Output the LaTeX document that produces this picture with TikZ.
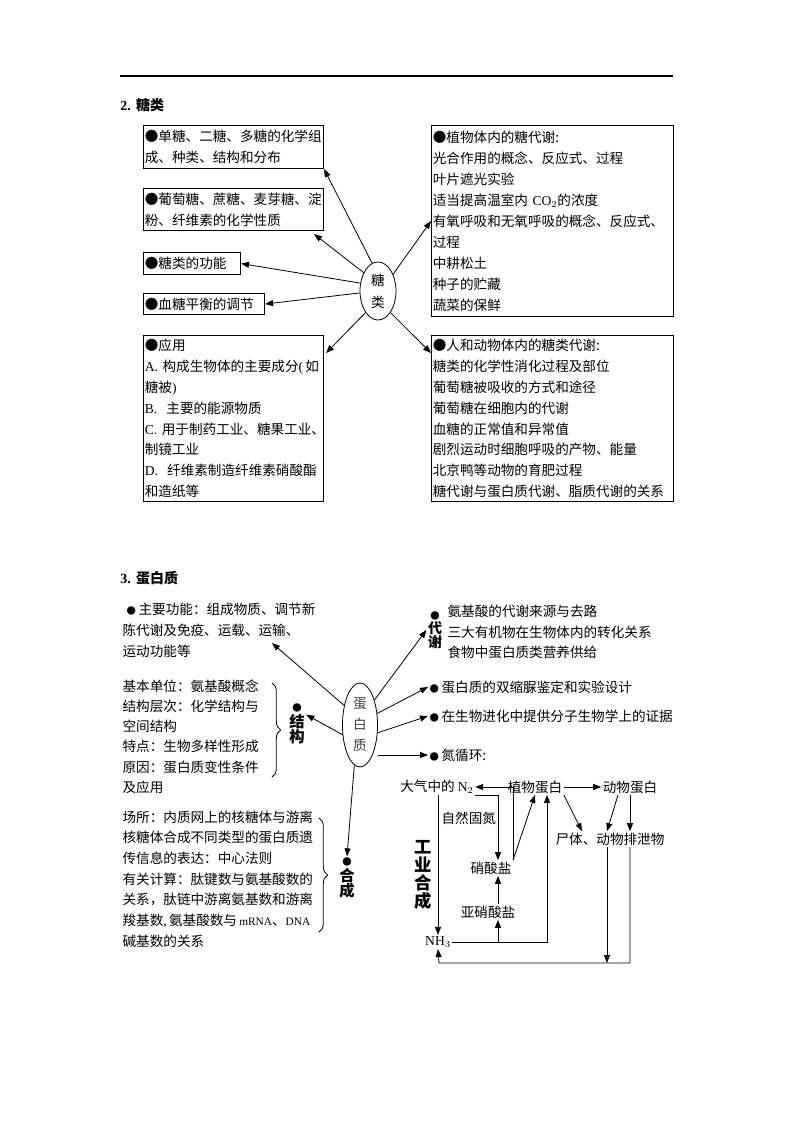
\documentclass[tikz,border=0pt]{standalone}
\usepackage{fontspec}
\setmainfont{Noto Sans CJK SC}
\newfontfamily\lat{Liberation Serif}
\usetikzlibrary{arrows.meta,calc,decorations.pathreplacing,shapes.geometric}
\newcommand\sbul{{\fontsize{7}{7}\selectfont ●}}
\begin{document}
\begin{tikzpicture}[x=0.75pt,y=-0.75pt,
  font=\fontsize{10.2}{15.6}\selectfont,
  arr/.style={-{Triangle[length=6pt,width=4.5pt]}, line width=0.6pt},
  box/.style={draw, line width=0.8pt, anchor=north west, align=left, inner xsep=1pt, inner ysep=0pt},
  txt/.style={inner sep=1pt, align=left},
  oval/.style={draw, ellipse, line width=0.6pt, inner sep=0pt, align=center},
  vlab/.style={font=\fontsize{11.5}{11.5}\selectfont\bfseries, align=center, inner sep=1pt},
  head/.style={anchor=west, inner sep=0pt, font=\fontsize{10.5}{12}\selectfont\bfseries},
  brc/.style={decorate, decoration={brace, amplitude=6.5pt}, line width=0.6pt}
]
\useasboundingbox (0,0) rectangle (793,1122);
\draw[line width=0.8pt] (120,76) -- (673,76);

% ---------------- section 2
\node[head] (h2) at (120,105) {{\lat 2.}\hspace{4pt}糖类};

\node[box, minimum width=135pt, minimum height=32.25pt, text width=133pt] (b1) at (143,125)
  {●单糖、二糖、多糖的化学组\\成、种类、结构和分布};
\node[box, minimum width=135pt, minimum height=31.5pt, text width=133pt] (b2) at (143,188)
  {●葡萄糖、蔗糖、麦芽糖、淀\\粉、纤维素的化学性质};
\node[box, minimum width=72.75pt, minimum height=16.5pt, text width=70.75pt] (b3) at (143,252)
  {●糖类的功能};
\node[box, minimum width=90.75pt, minimum height=15.75pt, text width=88.75pt] (b4) at (143,293)
  {●血糖平衡的调节};
\node[box, minimum width=135pt, minimum height=124.5pt, text width=133pt] (b5) at (143,335)
  {●应用\\{\lat A.}~构成生物体的主要成分{\lat (}\,如\\糖被{\lat )}\\{\lat B.}~~主要的能源物质\\{\lat C.}~用于制药工业、糖果工业、\\制镜工业\\{\lat D.}~~纤维素制造纤维素硝酸酯\\和造纸等};

\node[box, minimum width=181.5pt, minimum height=143.25pt, text width=179.5pt,
  font=\fontsize{10.2}{15.75}\selectfont] (r1) at (431,125)
  {●植物体内的糖代谢:\\光合作用的概念、反应式、过程\\叶片遮光实验\\适当提高温室内~{\lat CO$_2$}的浓度\\有氧呼吸和无氧呼吸的概念、反应式、\\过程\\中耕松土\\种子的贮藏\\蔬菜的保鲜};
\node[box, minimum width=181.5pt, minimum height=124.5pt, text width=179.5pt] (r2) at (431,335)
  {●人和动物体内的糖类代谢:\\糖类的化学性消化过程及部位\\葡萄糖被吸收的方式和途径\\葡萄糖在细胞内的代谢\\血糖的正常值和异常值\\剧烈运动时细胞呼吸的产物、能量\\北京鸭等动物的育肥过程\\糖代谢与蛋白质代谢、脂质代谢的关系};

\node[oval, minimum width=27pt, minimum height=43.5pt, font=\fontsize{10.2}{16.5}\selectfont] (tang) at (378,291) {糖\\类};

\draw[arr] (tang.102) -- (b1.south east);
\draw[arr] (tang.128) -- ($(b2.south east)+(-10,3)$);
\draw[arr] (tang.156) -- (b3.east);
\draw[arr] (tang.186) -- (b4.east);
\draw[arr] (tang.240) -- ($(b5.north east)+(2,18)$);
\draw[arr] (tang.48) -- (r1.west);
\draw[arr] (tang.300) -- ($(r2.north west)+(0,18)$);

% ---------------- section 3
\node[head] (h3) at (120,578) {{\lat 3.}\hspace{4pt}蛋白质};

\node[oval, minimum width=26.25pt, minimum height=63pt, font=\fontsize{10.2}{15.75}\selectfont, text=black!75] (dan) at (360,725) {蛋\\白\\质};

\node[txt, anchor=west, font=\fontsize{10.2}{15.75}\selectfont] (gn) at (121,630)
  {\hspace{3pt}\sbul\hspace{2pt}主要功能：组成物质、调节新\\陈代谢及免疫、运载、运输、\\运动功能等};
\node[txt, anchor=west, font=\fontsize{10.2}{15.15}\selectfont] (jg) at (121,736.5)
  {基本单位：氨基酸概念\\结构层次：化学结构与\\空间结构\\特点：生物多样性形成\\原因：蛋白质变性条件\\及应用};
\draw[brc] (272,683) -- (272,777);
\node[vlab] (jgl) at (297,724) {\sbul\\结\\构};

\node[txt, anchor=west, font=\fontsize{10.2}{15.5}\selectfont] (hc) at (121,879)
  {场所：内质网上的核糖体与游离\\核糖体合成不同类型的蛋白质遗\\传信息的表达：中心法则\\有关计算：肽键数与氨基酸数的\\关系，肽链中游离氨基数和游离\\羧基数{\lat ,}\,氨基酸数与\,{\lat\fontsize{8.5}{9}\selectfont mRNA}、{\lat\fontsize{8.5}{9}\selectfont DNA}\\碱基数的关系};
\draw[brc] (319,818) -- (319,932);
\node[vlab] (hcl) at (347,878) {\sbul\\合\\成};

\node[vlab, font=\fontsize{10.5}{10.5}\selectfont\bfseries] (dx) at (435,630) {\sbul\\代\\谢};
\node[txt, anchor=west, font=\fontsize{10.2}{15.4}\selectfont] (dxt) at (446,632)
  {氨基酸的代谢来源与去路\\三大有机物在生物体内的转化关系\\食物中蛋白质类营养供给};
\node[txt, anchor=west] (sl) at (428,687) {\sbul\hspace{2pt}蛋白质的双缩脲鉴定和实验设计};
\node[txt, anchor=west] (jh) at (428,716) {\sbul\hspace{2pt}在生物进化中提供分子生物学上的证据};
\node[txt, anchor=west] (nc) at (428,755) {\sbul\hspace{2pt}氮循环:};

\draw[arr] (dan.129) -- ($(gn.east)+(-45,13)$);
\draw[arr] (dan.209) -- (jgl.45);
\draw[arr] (dan.262) -- (hcl.north);
\draw[arr] (dan.60) -- (dx.west);
\draw[arr] (dan.34) -- (sl.west);
\draw[arr] (dan.336) -- (jh.west);
\draw[arr] (dan.east |- nc.west) -- (nc.west);

% nitrogen cycle
\node[txt] (n2) at (437,787) {大气中的~{\lat N$_2$}};
\node[txt] (zw) at (535,787) {植物蛋白};
\node[txt] (dw) at (630,787) {动物蛋白};
\node[txt] (st) at (610,839) {尸体、动物排泄物};
\node[txt] (xs) at (491,868) {硝酸盐};
\node[txt] (yx) at (488,912) {亚硝酸盐};
\node[txt] (nh3) at (438,942) {{\lat NH$_3$}};
\node[txt, anchor=west] (zr) at (440,818) {自然固氮};
\node[vlab, font=\fontsize{13}{13.5}\selectfont\bfseries] (gy) at (423,875) {工\\业\\合\\成};

\coordinate (col) at (498,0);
\coordinate (bl) at (439,963);
\coordinate (stl) at ($(st.south)+(-3,0)$);

\draw[arr] (n2.south -| nh3.north) -- (nh3.north);
\draw[arr] (n2.south east) -| (xs.north -| col);
\draw[arr] (xs.north east) |- (n2.east);
\draw[arr] (xs.north east) -- (zw.south);
\draw[arr] (nh3.east -| col) -- (yx.south -| col);
\draw[arr] (yx.north -| col) -- (xs.south -| col);
\draw[arr] (nh3.east) -| ($(zw.south)+(12,0)$);
\draw[arr] (zw.east) -- (dw.west);
\draw[arr] (zw.south east) -- ($(st.north west)+(28,0)$);
\draw[arr] ($(dw.south)+(-12,0)$) -- ($(st.north)+(-3,0)$);
\draw[arr] (dw.south) -- (dw.south |- st.north);
\draw[arr] (stl) -- (stl |- bl);
\draw[arr] (st.south -| dw.south) |- (bl) -- (nh3.south);
\end{tikzpicture}
\end{document}
